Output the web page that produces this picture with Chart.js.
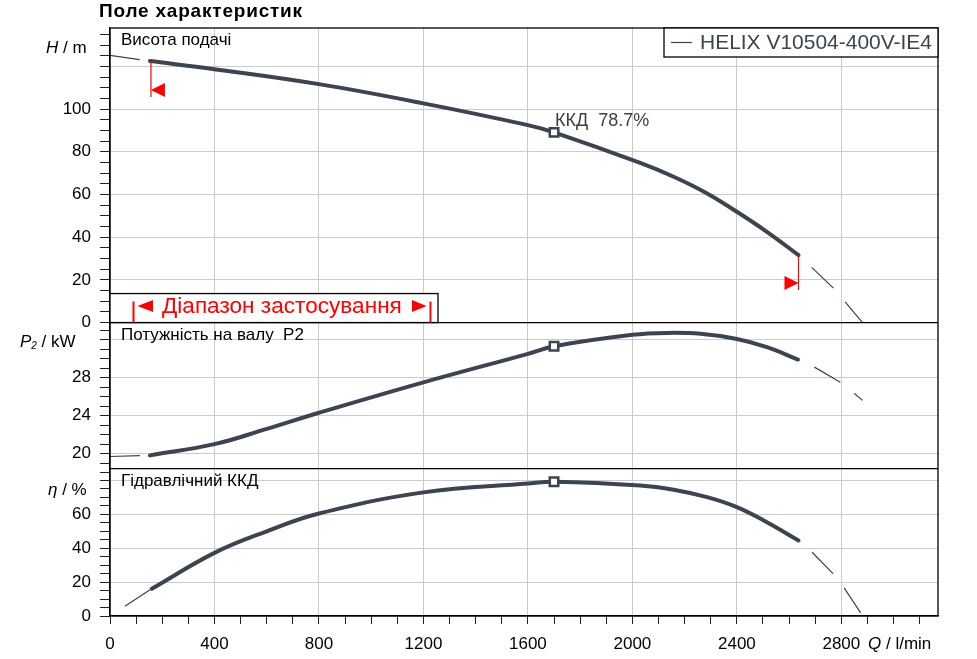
<!DOCTYPE html>
<html>
<head>
<meta charset="utf-8">
<script src="https://cdn.jsdelivr.net/npm/chart.js@4.4.1/dist/chart.umd.min.js"></script>
<style>
  html, body { margin: 0; padding: 0; background: #fff; }
  #wrap { width: 977px; height: 659px; }
</style>
</head>
<body>
<div id="wrap"><canvas id="chart"></canvas></div>
<script>
// Values (Q in l/min)

const pumpName = "HELIX V10504-400V-IE4";

// head H / m
const headQ = [153, 400, 800, 1200, 1600, 1700, 2030, 2158, 2286, 2400, 2515, 2636];
const headH = [122.5, 118.7, 111.7, 102.7, 92.5, 89.1, 74.8, 68.3, 60.5, 51.9, 42.5, 31.6];
const headStartQ = [0, 153];
const headStartH = [125.2, 122.5];
const headEndQ = [2636, 2686, 2770, 2816, 2881];
const headEndH = [31.6, 25.9, 16.1, 9.5, 0];

// shaft power P2 / kW
const powerQ = [153, 400, 600, 800, 1200, 1600, 1700, 2000, 2133, 2261, 2400, 2515, 2634];
const powerP = [19.82, 21.0, 22.6, 24.3, 27.5, 30.5, 31.3, 32.5, 32.7, 32.6, 32.06, 31.2, 29.9];
const powerStartQ = [0, 153];
const powerStartP = [19.7, 19.82];
const powerEndQ = [2634, 2697, 2797, 2851, 2881];
const powerEndP = [29.9, 29.1, 27.5, 26.3, 25.6];

// hydraulic efficiency / %
const effQ = [160, 400, 600, 800, 1200, 1600, 1700, 2030, 2158, 2286, 2400, 2515, 2636];
const effE = [16.1, 37.3, 50.0, 60.5, 73.0, 78.3, 79.3, 77.1, 74.6, 70.2, 64.3, 55.4, 44.6];
const effStartQ = [57, 160];
const effStartE = [5.8, 16.1];
const effEndQ = [2636, 2687, 2768, 2810, 2874];
const effEndE = [44.6, 37.8, 25.0, 16.7, 1.8];

// best efficiency point
const bepQ = 1700;
const bepH = 89.1;
const bepP = 31.3;
const bepE = 79.3;
const bepText = "ККД  78.7%";

// operating range
const rangeMinQ = 153;
const rangeMaxQ = 2636;
const rangeText = "Діапазон застосування";

// axes
const qLabels = [0, 400, 800, 1200, 1600, 2000, 2400, 2800];
const qGrid = [400, 800, 1200, 1600, 2000, 2400, 2800];
const hLabels = [0, 20, 40, 60, 80, 100];
const hGrid = [20, 40, 60, 80, 100, 120];
const pLabels = [20, 24, 28];
const pGrid = [20, 24, 28, 32];
const eLabels = [0, 20, 40, 60];
const eGrid = [20, 40, 60, 80];

const curveColor = '#3b444f';
const gridColor = '#cbcbcb';
const fontFamily = '"Liberation Sans", Arial, sans-serif';

function pts(qs, vs) {
    return qs.map((q, i) => ({ x: q, y: vs[i] }));
}
function steps(from, to, step) {
    let out = [];
    for (let v = from; v <= to + 1e-9; v += step) out.push(Math.round(v * 100) / 100);
    return out;
}

function thick(data, axis) {
    return { data, yAxisID: axis, borderColor: curveColor, borderWidth: 4, borderCapStyle: 'round',
        borderJoinStyle: 'round', pointRadius: 0, tension: 0.4, order: 1 };
}
function thin(data, axis, offset) {
    return { data, yAxisID: axis, borderColor: curveColor, borderWidth: 1.2, borderDash: [30, 18],
        borderDashOffset: offset, pointRadius: 0, tension: 0, order: 2 };
}
function bep(y, axis) {
    return { data: [{ x: bepQ, y }], yAxisID: axis, showLine: false, pointStyle: 'rect', pointRadius: 6,
        pointBorderWidth: 2.5, pointBorderColor: curveColor, pointBackgroundColor: '#fff', order: 0 };
}

function yAxis(min, max, weight, step, labels, grid) {
    return {
        type: 'linear', position: 'left', stack: 'panels', stackWeight: weight, min, max,
        afterBuildTicks: s => { s.ticks = steps(Math.ceil(min / step) * step, max, step).map(v => ({ value: v })); },
        afterFit: s => { s.width = 110; },
        grid: {
            color: c => (c.tick && grid.includes(c.tick.value)) ? gridColor : 'rgba(0,0,0,0)',
            tickColor: '#222', tickLength: 10, lineWidth: 1
        },
        border: { display: true, color: '#000', width: 1.3 },
        ticks: {
            autoSkip: false, padding: 9, color: '#000', font: { family: fontFamily, size: 17 },
            callback: v => labels.includes(v) ? String(v) : ''
        }
    };
}

// axis titles, panel captions, range marks, legend box
const decor = {
    id: 'decor',
    afterDraw(chart) {
        const { ctx, chartArea: a, scales } = chart;
        const x = scales.x, yH = scales.yH, yP = scales.yP, yE = scales.yE;
        ctx.save();
        ctx.textBaseline = 'middle';
        ctx.textAlign = 'left';

        // title
        ctx.fillStyle = '#000';
        ctx.font = 'bold 19px ' + fontFamily;
        ctx.letterSpacing = '0.8px';
        ctx.fillText('Поле характеристик', 99, 12);
        ctx.letterSpacing = '0px';

        // frame and panel separators
        ctx.strokeStyle = '#000';
        ctx.lineWidth = 1.3;
        ctx.strokeRect(a.left, a.top, a.right - a.left, a.bottom - a.top);
        for (const s of [yH, yP]) {
            ctx.beginPath();
            ctx.moveTo(a.left, s.bottom);
            ctx.lineTo(a.right, s.bottom);
            ctx.stroke();
        }

        // axis titles
        const it = 'italic 17px ' + fontFamily, rg = '17px ' + fontFamily;
        function parts(px, py, list) {
            for (const [txt, font, dy] of list) {
                ctx.font = font;
                ctx.fillText(txt, px, py + (dy || 0));
                px += ctx.measureText(txt).width;
            }
        }
        parts(46, yH.top + 20, [['H', it], [' / m', rg]]);
        parts(20, yP.top + 20, [['P', it], ['2', 'italic 10px ' + fontFamily, 4], [' / kW', rg]]);
        parts(48, yE.top + 22, [['η', it], [' / %', rg]]);
        parts(868, x.top + 28, [['Q', it], [' / l/min', rg]]);

        // panel captions
        ctx.font = '17px ' + fontFamily;
        ctx.fillText('Висота подачі', a.left + 11, yH.top + 12);
        ctx.fillText('Потужність на валу  P2', a.left + 11, yP.top + 13);
        ctx.fillText('Гідравлічний ККД', a.left + 11, yE.top + 13);

        // best efficiency label
        ctx.fillStyle = '#3a3f46';
        ctx.font = '18px ' + fontFamily;
        ctx.fillText(bepText, x.getPixelForValue(bepQ) + 1, yH.getPixelForValue(bepH) - 11);

        // operating range marks on the head curve
        ctx.fillStyle = '#ff0000';
        ctx.strokeStyle = '#ff0000';
        ctx.lineWidth = 1.2;
        const xl = x.getPixelForValue(rangeMinQ) + 1, yl = yH.getPixelForValue(headH[0]);
        ctx.beginPath(); ctx.moveTo(xl, yl); ctx.lineTo(xl, yl + 36); ctx.stroke();
        ctx.beginPath(); ctx.moveTo(xl, yl + 29); ctx.lineTo(xl + 14, yl + 22); ctx.lineTo(xl + 14, yl + 36); ctx.closePath(); ctx.fill();
        const xr = x.getPixelForValue(rangeMaxQ), yr = yH.getPixelForValue(headH[headH.length - 1]);
        ctx.beginPath(); ctx.moveTo(xr, yr); ctx.lineTo(xr, yr + 35); ctx.stroke();
        ctx.beginPath(); ctx.moveTo(xr, yr + 28); ctx.lineTo(xr - 14, yr + 21); ctx.lineTo(xr - 14, yr + 35); ctx.closePath(); ctx.fill();

        // range legend box
        const bx = a.left, by = yH.bottom - 29, bw = 328, bh = 29;
        ctx.fillStyle = '#fff';
        ctx.fillRect(bx, by, bw, bh);
        ctx.strokeStyle = '#000';
        ctx.lineWidth = 1.3;
        ctx.strokeRect(bx, by, bw, bh);
        ctx.fillStyle = '#ff0000';
        ctx.strokeStyle = '#ff0000';
        ctx.lineWidth = 2;
        ctx.beginPath(); ctx.moveTo(bx + 23.5, by + 8); ctx.lineTo(bx + 23.5, by + bh); ctx.stroke();
        ctx.beginPath(); ctx.moveTo(bx + 320.5, by + 8); ctx.lineTo(bx + 320.5, by + bh); ctx.stroke();
        const cy = by + 12.5;
        ctx.beginPath(); ctx.moveTo(bx + 27.5, cy); ctx.lineTo(bx + 43, cy - 6); ctx.lineTo(bx + 43, cy + 6); ctx.closePath(); ctx.fill();
        ctx.beginPath(); ctx.moveTo(bx + 316.5, cy); ctx.lineTo(bx + 302, cy - 6); ctx.lineTo(bx + 302, cy + 6); ctx.closePath(); ctx.fill();
        ctx.font = '20px ' + fontFamily;
        const fs = 20 * 240 / ctx.measureText(rangeText).width;
        ctx.font = fs.toFixed(1) + 'px ' + fontFamily;
        ctx.fillText(rangeText, bx + 52, cy + 1);

        // legend
        const lw = 274, lh = 29, lx = a.right - lw, ly = a.top;
        ctx.fillStyle = '#fff';
        ctx.fillRect(lx, ly, lw, lh);
        ctx.strokeStyle = '#000';
        ctx.lineWidth = 1.3;
        ctx.strokeRect(lx, ly, lw, lh);
        ctx.strokeStyle = curveColor;
        ctx.lineWidth = 1.2;
        ctx.beginPath(); ctx.moveTo(lx + 7, ly + 14.5); ctx.lineTo(lx + 28, ly + 14.5); ctx.stroke();
        ctx.fillStyle = curveColor;
        ctx.font = '21px ' + fontFamily;
        ctx.fillText(pumpName, lx + 36, ly + 15, lw - 42);

        ctx.restore();
    }
};

new Chart(document.getElementById('chart'), {
    type: 'line',
    data: {
        datasets: [
            bep(bepH, 'yH'), bep(bepP, 'yP'), bep(bepE, 'yE'),
            thick(pts(headQ, headH), 'yH'),
            thick(pts(powerQ, powerP), 'yP'),
            thick(pts(effQ, effE), 'yE'),
            thin(pts(headStartQ, headStartH), 'yH', 0),
            thin(pts(powerStartQ, powerStartP), 'yP', 0),
            thin(pts(effStartQ, effStartE), 'yE', 0),
            thin(pts(headEndQ, headEndH), 'yH', 30),
            thin(pts(powerEndQ, powerEndP), 'yP', 30),
            thin(pts(effEndQ, effEndE), 'yE', 30),
        ]
    },
    options: {
        responsive: true,
        maintainAspectRatio: false,
        animation: false,
        layout: { padding: { top: 28, right: 39, left: 0, bottom: 0 } },
        plugins: { legend: { display: false }, tooltip: { enabled: false } },
        scales: {
            x: {
                type: 'linear', min: 0, max: 3170,
                afterBuildTicks: s => { s.ticks = steps(0, 3100, 100).map(v => ({ value: v })); },
                afterFit: s => { s.height = 43; },
                grid: {
                    color: c => (c.tick && qGrid.includes(c.tick.value)) ? gridColor : 'rgba(0,0,0,0)',
                    tickColor: '#222', tickLength: 8, lineWidth: 1
                },
                border: { display: true, color: '#000', width: 1.3 },
                ticks: {
                    autoSkip: false, maxRotation: 0, minRotation: 0, padding: 10, color: '#000',
                    font: { family: fontFamily, size: 17 },
                    callback: v => qLabels.includes(v) ? String(v) : ''
                }
            },
            // stacked left axes: the last one defined ends up on top
            yE: yAxis(0, 87, 147.2, 5, eLabels, eGrid),
            yP: yAxis(18.42, 33.79, 146, 1, pLabels, pGrid),
            yH: yAxis(0, 138, 294.3, 5, hLabels, hGrid)
        }
    },
    plugins: [decor]
});
</script>
</body>
</html>
